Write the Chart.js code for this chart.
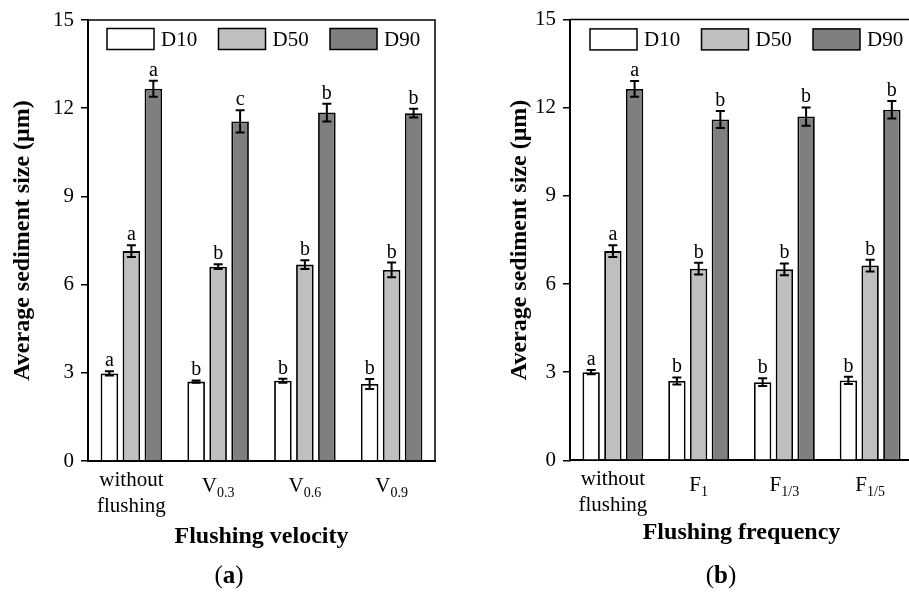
<!DOCTYPE html>
<html><head><meta charset="utf-8">
<script src="https://cdn.jsdelivr.net/npm/chart.js@4"></script>
<style>
html,body{margin:0;padding:0;background:#fff;}
#wrap{position:relative;width:909px;height:592px;overflow:hidden;background:#fff}
canvas{position:absolute;top:0}
#ca{left:0}
#cb{left:460px}
.lab{position:absolute;font-family:"Liberation Serif","Times New Roman",serif;font-size:25px;color:#000;transform:translate(-50%,-50%);top:575px;white-space:nowrap}
</style></head><body>
<div id="wrap">
<canvas id="ca" width="460" height="592"></canvas>
<canvas id="cb" width="470" height="592"></canvas>
<div class="lab" style="left:229px">(<b>a</b>)</div>
<div class="lab" style="left:721px">(<b>b</b>)</div>
</div>
<script>
// ---------- data ----------
const seriesNames = ['D10', 'D50', 'D90'];
const yTicks = [0, 3, 6, 9, 12, 15];

// (a) flushing velocity
const categoriesA = ['without flushing', 'V_0.3', 'V_0.6', 'V_0.9'];
const d10A = [2.98, 2.70, 2.73, 2.62];
const d10ErrA = [0.07, 0.04, 0.07, 0.17];
const d50A = [7.14, 6.61, 6.68, 6.50];
const d50ErrA = [0.20, 0.08, 0.15, 0.25];
const d90A = [12.66, 11.55, 11.85, 11.83];
const d90ErrA = [0.27, 0.38, 0.30, 0.15];
const d10LetA = ['a', 'b', 'b', 'b'];
const d50LetA = ['a', 'b', 'b', 'b'];
const d90LetA = ['a', 'c', 'b', 'b'];

// (b) flushing frequency
const categoriesB = ['without flushing', 'F_1', 'F_1/3', 'F_1/5'];
const d10B = [3.00, 2.70, 2.66, 2.72];
const d10ErrB = [0.07, 0.12, 0.13, 0.12];
const d50B = [7.12, 6.52, 6.50, 6.63];
const d50ErrB = [0.20, 0.20, 0.20, 0.20];
const d90B = [12.64, 11.60, 11.70, 11.93];
const d90ErrB = [0.27, 0.29, 0.31, 0.30];
const d10LetB = ['a', 'b', 'b', 'b'];
const d50LetB = ['a', 'b', 'b', 'b'];
const d90LetB = ['a', 'b', 'b', 'b'];

// ---------- styling ----------
const FF = '"Liberation Serif", "Times New Roman", serif';
const fills = ['#ffffff', '#bfbfbf', '#7f7f7f'];

const errLetters = {
  id: 'errLetters',
  afterDatasetsDraw(chart) {
    const ctx = chart.ctx, y = chart.scales.y;
    chart.data.datasets.forEach((ds, di) => {
      const meta = chart.getDatasetMeta(di);
      meta.data.forEach((bar, i) => {
        const v = ds.data[i], e = ds.errors[i];
        const yt = y.getPixelForValue(v + e), yb = y.getPixelForValue(v - e);
        ctx.save();
        ctx.strokeStyle = '#000'; ctx.lineWidth = 2;
        ctx.beginPath();
        ctx.moveTo(bar.x, yt); ctx.lineTo(bar.x, yb);
        ctx.moveTo(bar.x - 4.5, yt); ctx.lineTo(bar.x + 4.5, yt);
        ctx.moveTo(bar.x - 4.5, yb); ctx.lineTo(bar.x + 4.5, yb);
        ctx.stroke();
        ctx.fillStyle = '#000';
        ctx.font = '20px ' + FF;
        ctx.textAlign = 'center'; ctx.textBaseline = 'alphabetic';
        ctx.fillText(ds.letters[i], bar.x, yt - 5);
        ctx.restore();
      });
    });
  }
};

const frame = {
  id: 'frame',
  afterDraw(chart) {
    const {ctx, chartArea: a} = chart;
    ctx.save();
    ctx.strokeStyle = '#000'; ctx.lineWidth = 1.5;
    ctx.beginPath();
    ctx.moveTo(a.left, a.top); ctx.lineTo(a.right, a.top); ctx.lineTo(a.right, a.bottom);
    ctx.stroke();
    ctx.restore();
  }
};

const boxLegend = {
  id: 'boxLegend',
  afterDraw(chart, args, o) {
    const {ctx, chartArea: a} = chart;
    ctx.save();
    chart.data.datasets.forEach((ds, i) => {
      const x = a.left + o.left + i * o.step, y = a.top + o.top;
      ctx.fillStyle = ds.backgroundColor; ctx.fillRect(x, y, 47, 21);
      ctx.lineWidth = 1.5; ctx.strokeStyle = '#000'; ctx.strokeRect(x, y, 47, 21);
      ctx.fillStyle = '#000'; ctx.font = '21px ' + FF;
      ctx.textBaseline = 'middle'; ctx.textAlign = 'left';
      ctx.fillText(ds.label, x + 54, y + 11.5);
    });
    ctx.restore();
  }
};

const catLabels = {
  id: 'catLabels',
  afterDraw(chart) {
    const {ctx, chartArea: a} = chart, xs = chart.scales.x;
    ctx.save();
    ctx.fillStyle = '#000'; ctx.textBaseline = 'middle';
    chart.data.labels.forEach((lab, i) => {
      const cx = xs.getPixelForValue(i);
      if (lab.includes('_')) {
        const [b, s] = lab.split('_');
        ctx.font = '21px ' + FF; const wb = ctx.measureText(b).width;
        ctx.font = '14px ' + FF; const ws = ctx.measureText(s).width;
        const x0 = cx - (wb + ws) / 2;
        ctx.textAlign = 'left';
        ctx.font = '21px ' + FF; ctx.fillText(b, x0, a.bottom + 25);
        ctx.font = '14px ' + FF; ctx.fillText(s, x0 + wb, a.bottom + 32);
      } else {
        ctx.textAlign = 'center'; ctx.font = '21px ' + FF;
        lab.split(' ').forEach((l, k) => ctx.fillText(l, cx, a.bottom + 19 + k * 26));
      }
    });
    ctx.restore();
  }
};

function makeChart(id, cats, vals, errs, lets, xTitle, L) {
  return new Chart(document.getElementById(id), {
    type: 'bar',
    data: {
      labels: cats,
      datasets: seriesNames.map((n, k) => ({
        label: n, data: vals[k], errors: errs[k], letters: lets[k],
        backgroundColor: fills[k], borderColor: '#000', borderWidth: 1.8,
        barPercentage: 0.8, categoryPercentage: 0.76
      }))
    },
    options: {
      responsive: false, animation: false,
      layout: {padding: {left: 0, right: L.right, top: L.top, bottom: 0}},
      plugins: {
        legend: {display: false}, tooltip: {enabled: false},
        boxLegend: {left: L.legLeft, step: 111.5, top: L.legTop}
      },
      scales: {
        x: {
          grid: {display: false},
          border: {display: true, color: '#000', width: 2},
          ticks: {display: false},
          title: {display: true, text: xTitle, color: '#000',
            font: {family: FF, size: 24, weight: 'bold'}, padding: {top: 0, bottom: L.xtPad}},
          afterFit: s => { s.height = L.xH; }
        },
        y: {
          min: 0, max: 15,
          afterBuildTicks: s => { s.ticks = yTicks.map(v => ({value: v})); },
          ticks: {color: '#000', font: {family: FF, size: 21}, padding: 7},
          grid: {drawOnChartArea: false, drawTicks: true, tickLength: 7, color: '#000', lineWidth: 1.5},
          border: {display: true, color: '#000', width: 2},
          title: {display: true, text: 'Average sediment size (μm)', color: '#000',
            font: {family: FF, size: 24, weight: 'bold'}, padding: {top: L.ytPad, bottom: 0}},
          afterFit: s => { s.width = L.yW; }
        }
      }
    },
    plugins: [frame, errLetters, boxLegend, catLabels]
  });
}

makeChart('ca', categoriesA, [d10A, d50A, d90A], [d10ErrA, d50ErrA, d90ErrA],
  [d10LetA, d50LetA, d90LetA], 'Flushing velocity',
  {right: 25, top: 20, yW: 88, xH: 131, ytPad: 8.6, xtPad: 40.6, legLeft: 19, legTop: 8.5});
makeChart('cb', categoriesB, [d10B, d50B, d90B], [d10ErrB, d50ErrB, d90ErrB],
  [d10LetB, d50LetB, d90LetB], 'Flushing frequency',
  {right: 17, top: 18.3, yW: 110, xH: 131.7, ytPad: 45.6, xtPad: 44.6, legLeft: 20, legTop: 9.3});
</script>
</body></html>
